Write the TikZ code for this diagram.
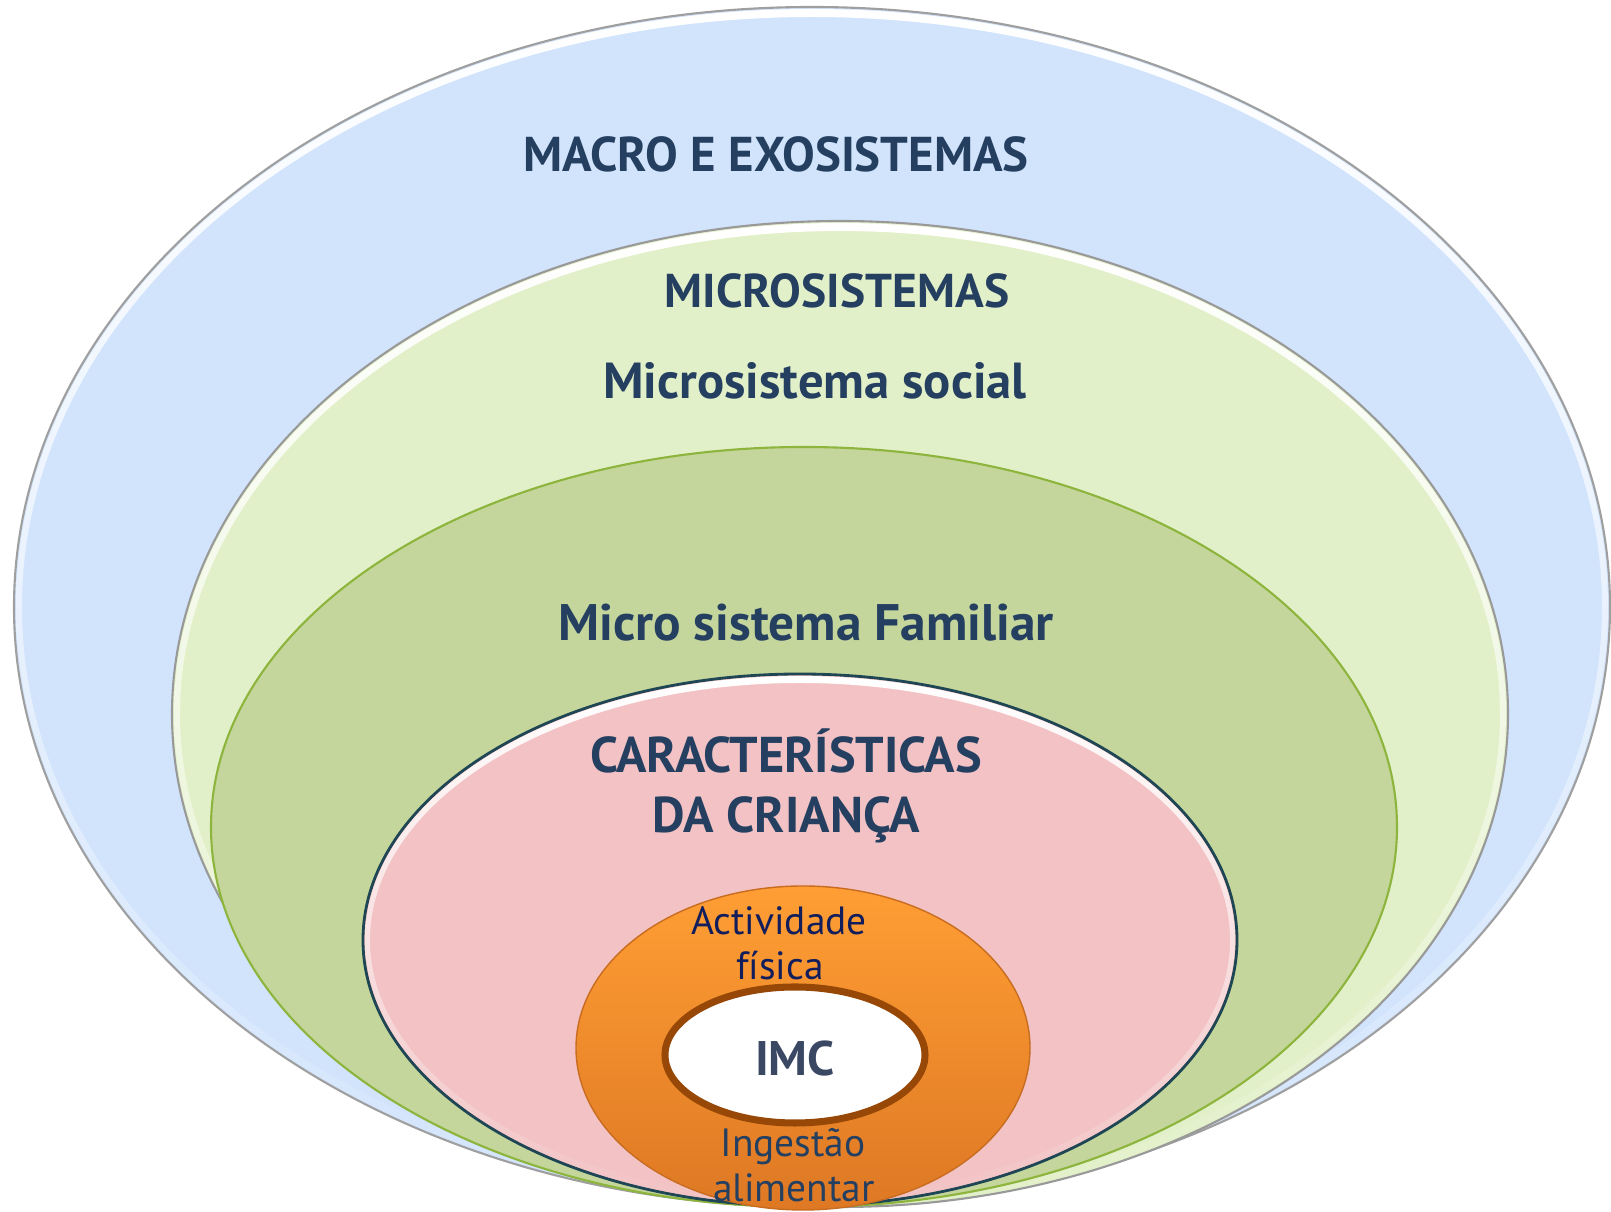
\documentclass[tikz,border=0pt]{standalone}
\usepackage{fontspec}
\setmainfont{PT Sans}
\definecolor{navy}{RGB}{36,63,96}
\definecolor{ink}{RGB}{18,30,92}
\definecolor{macrofill}{RGB}{210,228,252}
\definecolor{microfill}{RGB}{226,240,201}
\definecolor{famfill}{RGB}{196,214,155}
\definecolor{famline}{RGB}{141,180,60}
\definecolor{childfill}{RGB}{242,194,196}
\definecolor{childline}{RGB}{30,70,85}
\definecolor{orangetop}{RGB}{255,158,52}
\definecolor{orangebot}{RGB}{222,120,36}
\definecolor{imcline}{RGB}{151,72,6}
\definecolor{imctext}{RGB}{58,72,100}
\begin{document}
\begin{tikzpicture}[x=.01cm, y=.01cm,
    title/.style={anchor=base, inner sep=0, text=navy, font=\bfseries\fontsize{#1}{18}\selectfont},
    title/.default=14.7,
    small/.style={anchor=base, inner sep=0, font=\fontsize{11.2}{14}\selectfont},
    shine/.style={top color=white, middle color=#1, bottom color=#1, even odd rule}]
    \useasboundingbox (0,0) rectangle (1611,1212);
    \filldraw[fill=macrofill, draw=gray!75, line width=.6pt] (812,605) ellipse [x radius=798, y radius=600];
    \shade[shine=macrofill] (812,605) ellipse [x radius=796, y radius=598] (812,605) ellipse [x radius=790, y radius=590];
    \filldraw[fill=microfill, draw=gray!80, line width=.6pt] (840,498) ellipse [x radius=668, y radius=493];
    \shade[shine=microfill] (840,498) ellipse [x radius=666, y radius=491] (840,498) ellipse [x radius=660, y radius=483];
    \filldraw[fill=famfill, draw=famline, line width=.6pt] (804,385) ellipse [x radius=593, y radius=380];
    \filldraw[fill=childfill, draw=childline, line width=.8pt] (800,272) ellipse [x radius=437, y radius=266];
    \shade[shine=childfill] (800,272) ellipse [x radius=435, y radius=264] (800,272) ellipse [x radius=430, y radius=257];
    \shade[top color=orangetop, bottom color=orangebot] (803,164) ellipse [x radius=227, y radius=162];
    \draw[orangebot!90!black, line width=.4pt] (803,164) ellipse [x radius=227, y radius=162];
    \filldraw[fill=white, draw=imcline, line width=2pt] (795,157) ellipse [x radius=130, y radius=68];

    \node[title=13.9] (macro) at (776,1040) {MACRO E EXOSISTEMAS};
    \node[title=13.5] (micro) at (837,904) {MICROSISTEMAS};
    \node[title=14.4] (social) at (815,813) {Microsistema social};
    \node[title=14.6] (familia) at (806,571) {Micro sistema Familiar};
    \node[title=14.3] (carac) at (786,439) {CARACTERÍSTICAS};
    \node[title=14.3] (crianca) at (786,379) {DA CRIANÇA};
    \node[small, text=ink] (activ) at (779,277) {Actividade};
    \node[small, text=ink] (fisica) at (780,232) {física};
    \node[title=13.8, text=imctext] (imc) at (795,136) {IMC};
    \node[small, text=navy] (ingest) at (793,55) {Ingestão};
    \node[small, text=navy] (alim) at (794,10) {alimentar};
\end{tikzpicture}
\end{document}
